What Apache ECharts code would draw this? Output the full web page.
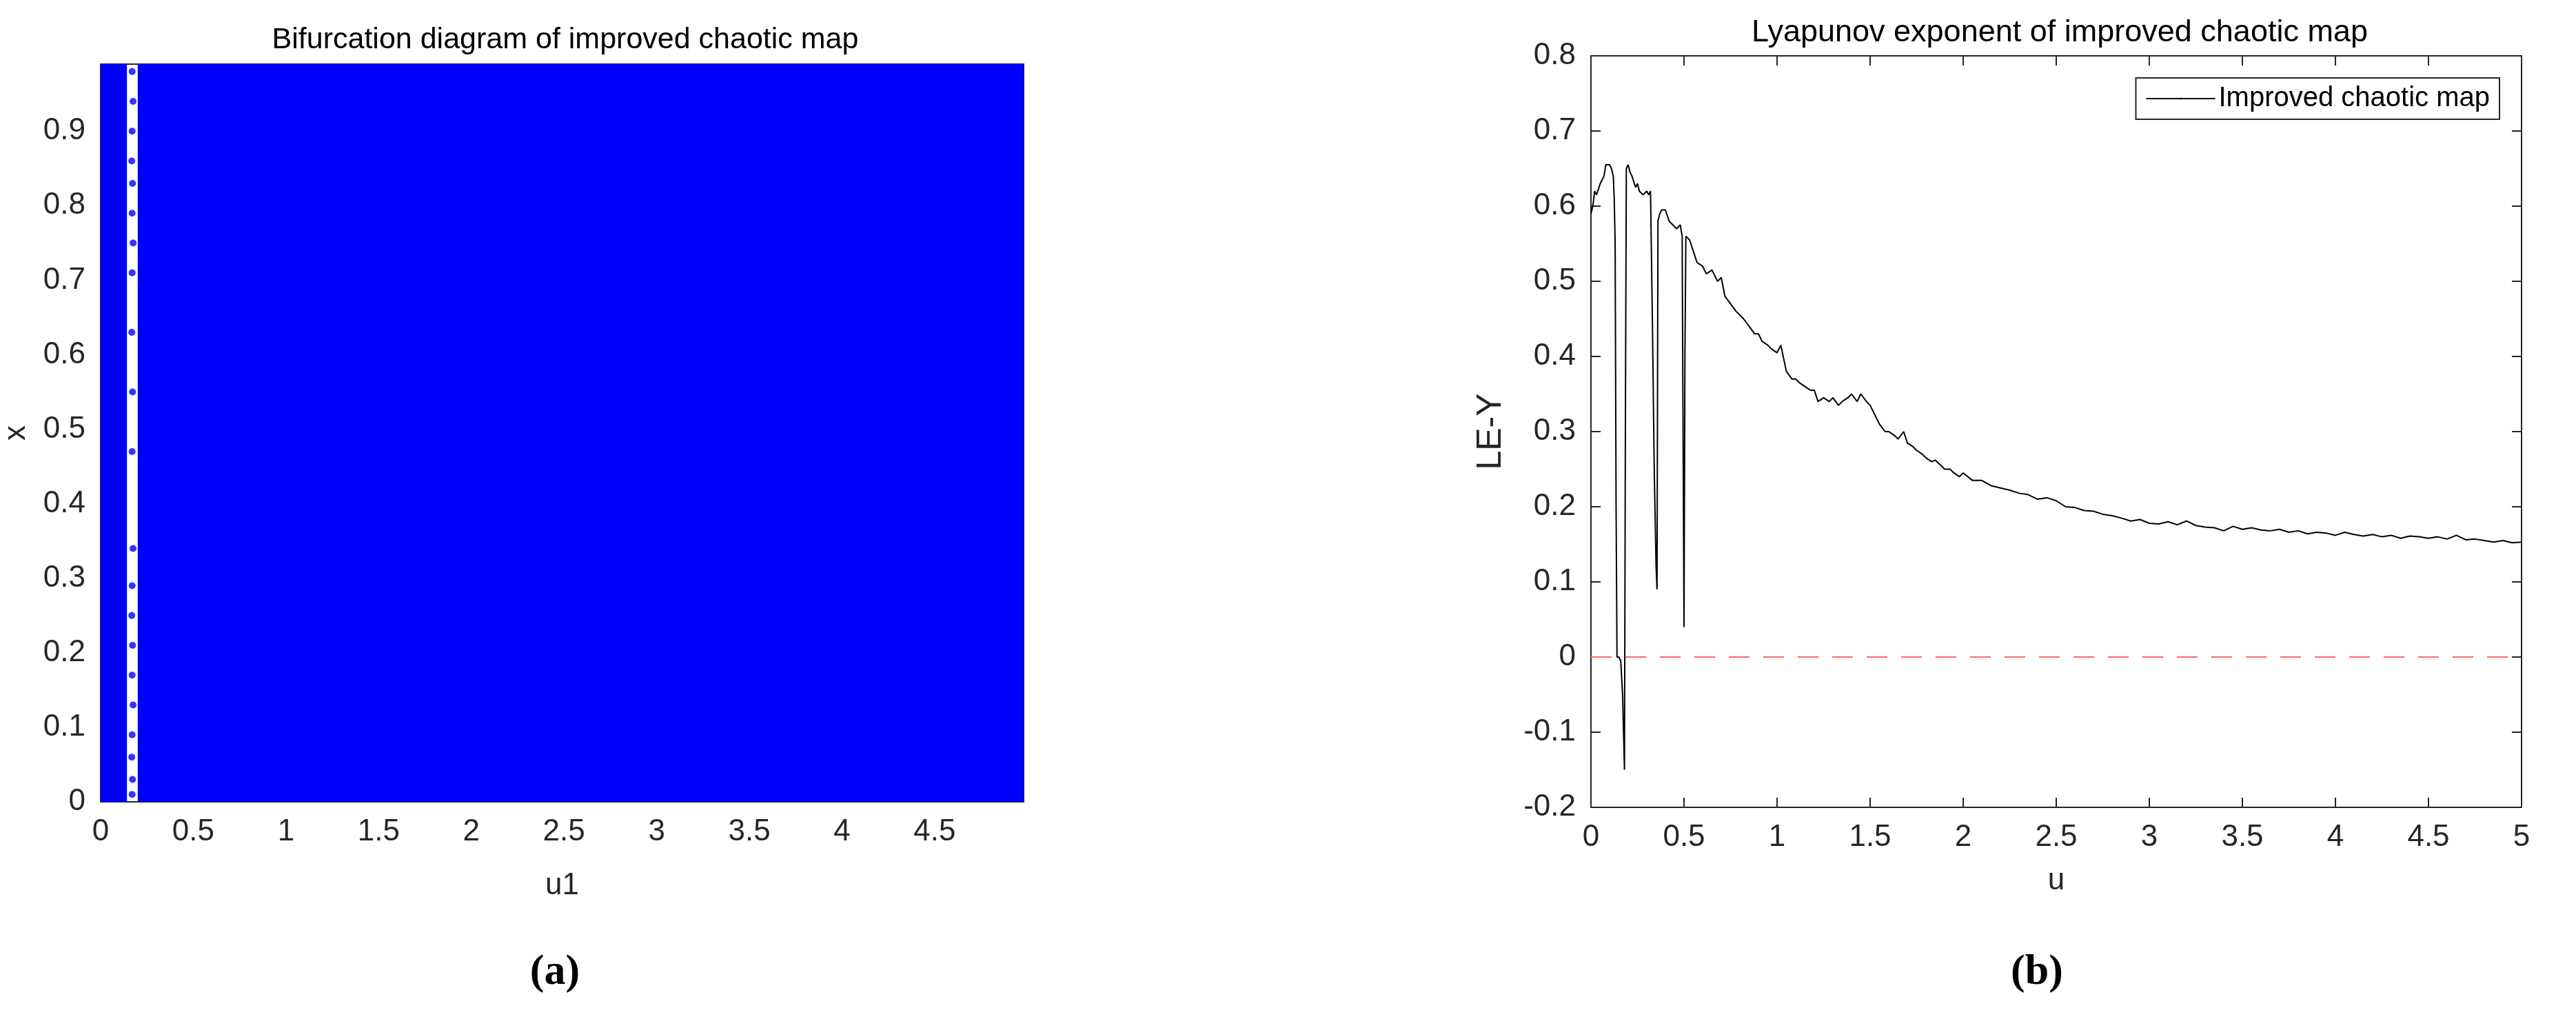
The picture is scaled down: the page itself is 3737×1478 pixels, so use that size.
<!DOCTYPE html>
<html><head><meta charset="utf-8">
<script src="https://cdn.jsdelivr.net/npm/echarts@6/dist/echarts.min.js"></script>
<style>html,body{margin:0;padding:0;background:#fff}#c{width:3737px;height:1478px}</style>
</head><body><div id="c"></div>
<script>
// ---- data ----
const xTicksA = [0,0.5,1,1.5,2,2.5,3,3.5,4,4.5];
const yTicksA = [0,0.1,0.2,0.3,0.4,0.5,0.6,0.7,0.8,0.9];
// filled chaotic region (u ranges where the orbit covers [0, 0.99])
const bandLeft = [[0,0.99],[0.142,0.99]];
const bandRight = [[0.2,0.99],[4.98,0.99]];
const bandBottom = 0;
// sparse dots inside the white gap near u ~ 0.17
const gapDots = [[0.17,0.98],[0.175,0.94],[0.17,0.9],[0.168,0.86],[0.172,0.83],[0.17,0.79],[0.175,0.75],[0.17,0.71],[0.168,0.63],[0.172,0.55],[0.17,0.47],[0.175,0.34],[0.17,0.29],[0.168,0.25],[0.172,0.21],[0.17,0.17],[0.175,0.13],[0.17,0.09],[0.168,0.06],[0.172,0.03],[0.17,0.01]];

const leU = [0,0.01,0.02,0.03,0.05,0.07,0.08,0.1,0.11,0.12,0.125,0.13,0.135,0.14,0.15,0.16,0.17,0.175,0.18,0.185,0.19,0.2,0.21,0.22,0.24,0.25,0.26,0.28,0.3,0.31,0.32,0.33,0.34,0.35,0.355,0.36,0.365,0.37,0.38,0.4,0.42,0.44,0.46,0.48,0.49,0.495,0.5,0.505,0.51,0.53,0.55,0.57,0.6,0.62,0.65,0.68,0.7,0.72,0.75,0.78,0.8,0.82,0.85,0.88,0.9,0.92,0.95,0.97,1.0,1.02,1.05,1.08,1.1,1.12,1.15,1.18,1.2,1.22,1.25,1.28,1.3,1.33,1.35,1.38,1.4,1.43,1.45,1.48,1.5,1.53,1.55,1.58,1.6,1.63,1.65,1.68,1.7,1.73,1.75,1.78,1.8,1.83,1.85,1.88,1.9,1.93,1.95,1.98,2.0,2.05,2.1,2.15,2.2,2.25,2.3,2.35,2.4,2.45,2.5,2.55,2.6,2.65,2.7,2.75,2.8,2.85,2.9,2.95,3.0,3.05,3.1,3.15,3.2,3.25,3.3,3.35,3.4,3.45,3.5,3.55,3.6,3.65,3.7,3.75,3.8,3.85,3.9,3.95,4.0,4.05,4.1,4.15,4.2,4.25,4.3,4.35,4.4,4.45,4.5,4.55,4.6,4.65,4.7,4.75,4.8,4.85,4.9,4.95,5.0];
const leY = [0.59,0.6,0.62,0.615,0.63,0.64,0.655,0.655,0.65,0.64,0.61,0.55,0.2,0.0,0.0,-0.005,-0.05,-0.1,-0.15,0.3,0.65,0.655,0.645,0.64,0.625,0.63,0.62,0.615,0.62,0.615,0.62,0.45,0.25,0.12,0.09,0.58,0.585,0.59,0.595,0.595,0.58,0.575,0.57,0.575,0.56,0.56,0.04,0.4,0.56,0.555,0.54,0.525,0.52,0.51,0.515,0.5,0.505,0.48,0.47,0.46,0.455,0.45,0.44,0.43,0.43,0.42,0.415,0.41,0.405,0.415,0.38,0.37,0.37,0.365,0.36,0.355,0.355,0.34,0.345,0.34,0.345,0.335,0.34,0.345,0.35,0.34,0.35,0.34,0.335,0.32,0.31,0.3,0.3,0.295,0.29,0.3,0.285,0.28,0.275,0.27,0.265,0.26,0.262,0.255,0.25,0.25,0.245,0.24,0.245,0.235,0.235,0.228,0.225,0.222,0.218,0.216,0.21,0.212,0.208,0.2,0.199,0.195,0.194,0.19,0.188,0.185,0.181,0.183,0.178,0.177,0.18,0.176,0.181,0.175,0.173,0.172,0.168,0.174,0.17,0.172,0.169,0.168,0.17,0.166,0.168,0.164,0.166,0.165,0.162,0.166,0.163,0.161,0.163,0.16,0.162,0.158,0.161,0.16,0.158,0.16,0.157,0.162,0.156,0.157,0.155,0.153,0.155,0.152,0.153];
const xTicksB = [0,0.5,1,1.5,2,2.5,3,3.5,4,4.5,5];

const leData = leU.map((u,i)=>[u,leY[i]]);
const F = 'Liberation Sans, Arial, sans-serif';
const tc = '#262626';
const chart = echarts.init(document.getElementById('c'));
const grids = [
  {left:146, top:93, width:1339, height:1070, show:true, borderColor:tc, borderWidth:2},
  {left:2308, top:81, width:1350, height:1090, show:true, borderColor:tc, borderWidth:2}
];
function ax(grid, min, max, interval, dir, name, gap, labels, pos, fmt){
  return {type:'value', gridIndex:grid, min, max, interval, position:pos,
    name, nameLocation:'middle', nameGap:gap,
    nameTextStyle:{fontFamily:F, fontSize:44, color:tc},
    axisLine:{show:true, onZero:false, lineStyle:{color:tc, width:2}},
    axisTick:{show:true, inside:true, length:14, lineStyle:{color:tc, width:2}},
    axisLabel:{show:labels, fontFamily:F, fontSize:44, color:tc, margin:22, formatter:fmt||(v=>String(+v.toFixed(2))), showMaxLabel:true},
    splitLine:{show:false}};
}
const optA_x = ax(0,0,4.98,0.5,'x','u1',100,true,'bottom');
optA_x.axisLabel.formatter = v => (v>4.9?'':String(+v.toFixed(2)));
const optA_y = ax(0,0,0.99,0.1,'y','x',100,true,'left');
optA_y.axisLabel.formatter = v => (v>0.95?'':String(+v.toFixed(2)));
const optB_y = ax(1,-0.2,0.8,0.1,'y','LE-Y',120,true,'left',v=>String(+v.toFixed(2)));
optB_y.nameTextStyle.fontSize = 50;
chart.setOption({
  animation:false,
  title:[
    {text:'Bifurcation diagram of improved chaotic map', left:815, top:32, textAlign:'center', textStyle:{fontFamily:F, fontSize:43, fontWeight:'normal', color:'#000'}},
    {text:'Lyapunov exponent of improved chaotic map', left:2983, top:20, textAlign:'center', textStyle:{fontFamily:F, fontSize:45, fontWeight:'normal', color:'#000'}},
    {text:'(a)', left:800, top:1375, textAlign:'center', textStyle:{fontFamily:'Liberation Serif, serif', fontSize:62, fontWeight:'bold', color:'#000'}},
    {text:'(b)', left:2950, top:1375, textAlign:'center', textStyle:{fontFamily:'Liberation Serif, serif', fontSize:62, fontWeight:'bold', color:'#000'}}
  ],
  legend:{data:['Improved chaotic map'], right:3737-3626, top:113, orient:'vertical',
    backgroundColor:'#fff', borderColor:tc, borderWidth:2, borderRadius:0, padding:[10,14,10,14],
    itemWidth:100, itemHeight:4, textStyle:{fontFamily:F, fontSize:40, color:'#000'}},
  grid:grids,
  xAxis:[optA_x,
    ax(1,0,5,0.5,'x','u',85,true,'bottom'),
    ax(1,0,5,0.5,'x','',0,false,'top')],
  yAxis:[optA_y, optB_y,
    ax(1,-0.2,0.8,0.1,'y','',0,false,'right')],
  series:[
    {type:'line', xAxisIndex:0, yAxisIndex:0, data:bandLeft, symbol:'none', lineStyle:{width:0}, areaStyle:{color:'#0000ff', opacity:1, origin:bandBottom}, silent:true},
    {type:'line', xAxisIndex:0, yAxisIndex:0, data:bandRight, symbol:'none', lineStyle:{width:0}, areaStyle:{color:'#0000ff', opacity:1, origin:bandBottom}, silent:true},
    {type:'scatter', xAxisIndex:0, yAxisIndex:0, data:gapDots, symbolSize:10, itemStyle:{color:'#0000ff'}},
    {type:'line', name:'Improved chaotic map', xAxisIndex:1, yAxisIndex:1, data:leData, symbol:'none', lineStyle:{color:'#000', width:2}, itemStyle:{color:'#000'},
     markLine:{silent:true, symbol:'none', label:{show:false}, lineStyle:{color:'#ff6666', type:[30,20], width:2}, data:[{yAxis:0}]}}
  ]
});
</script></body></html>
